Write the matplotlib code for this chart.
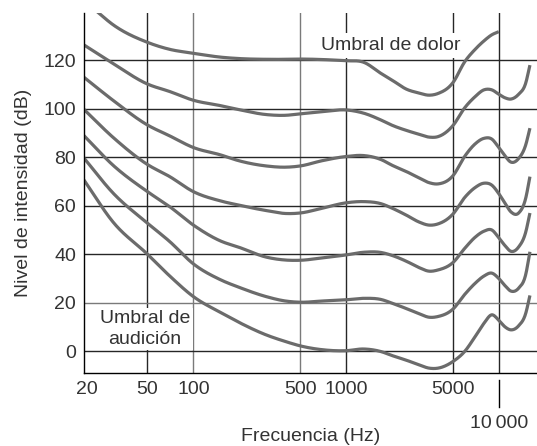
"""Equal-loudness contours (curvas isofónicas), log frequency axis."""

import matplotlib

matplotlib.use("Agg")
import matplotlib.pyplot as plt
import numpy as np

# frequencies (Hz) shared by the 0..100 phon contours
FREQ_HZ = [19, 30, 50, 70, 100, 150, 200, 300, 400, 500, 700, 1000, 1300,
           1700, 2000, 2500, 3000, 3500, 4000, 5000, 6000, 7000, 8000, 9000,
           10000, 11000, 12000, 13500, 15000, 16000]

PHON_0 = [71, 53, 40, 31, 22.5, 16, 11.8, 6.7, 4, 2.2, 0.6, 0.2, 0.9, -0.2,
          -1.8, -3.8, -5.6, -7, -7, -4.3, 0, 6, 11.5, 15, 12.8, 10, 8.8,
          10.5, 15.5, 23]
PHON_20 = [80, 65, 52.8, 45.2, 36, 29.5, 26.3, 22.5, 20.7, 20.2, 20.7, 21.2,
           21.8, 21.3, 19.8, 17.5, 15.5, 14, 14.3, 17.3, 23.5, 28, 31, 32.2,
           30, 27, 24.8, 26, 31.5, 41]
PHON_40 = [89.2, 76.5, 65.8, 59.6, 52, 45.5, 42.8, 38.8, 37.6, 37.5, 38.5,
           39.7, 40.8, 40.7, 39.5, 37, 34.5, 33, 33.5, 36.5, 42.5, 47, 49.5,
           50, 46.8, 43.5, 41.2, 43, 49, 57]
PHON_60 = [100, 88, 77, 72, 65.8, 62, 60.2, 58, 56.8, 57, 59, 61.2, 61.7,
           60.8, 59, 56, 53.3, 52, 52.5, 56.5, 63.5, 67.5, 69.3, 68.5, 65, 61,
           57.5, 57, 63, 72]
PHON_80 = [113.2, 103.3, 93.3, 88.8, 84, 81, 78.5, 76.4, 75.9, 76.4, 78.6,
           80.3, 80.7, 79, 76.7, 74, 71.5, 69.5, 69, 72.3, 80.5, 85.5, 87.8,
           87.5, 84, 80.5, 78, 79.5, 85, 92]
PHON_100 = [126.5, 118.5, 110.2, 107.1, 103.5, 101.3, 99.6, 97.6, 97.3, 97.9,
            98.8, 99.5, 98.2, 95.3, 93.2, 91, 89.5, 88.3, 88.5, 93, 100.5,
            105, 107.8, 107.8, 106, 104.5, 104, 106, 110.5, 118]

# threshold of pain runs on its own frequency range
FREQ_PAIN_HZ = [22, 30, 50, 70, 100, 150, 200, 300, 400, 500, 700, 1000, 1300,
                1700, 2000, 2500, 3000, 3500, 4000, 5000, 6000, 7000, 8000,
                9000, 10000]
PHON_120 = [141.5, 134.5, 127.4, 124.5, 122.9, 121.3, 120.7, 120.4, 120.4,
            120.5, 120.3, 119.8, 119.2, 114.5, 111.8, 108, 106.5, 105.6, 106.3,
            110.7, 119.5, 124.5, 128, 130.5, 131.8]

X_TICKS = [20, 50, 100, 500, 1000, 5000]
X_TICK_LABELS = ["20", "50", "100", "500", "1000", "5000"]
X_LOW_TICK = 10000
X_LOW_TICK_LABEL = "10\u2009000"
Y_TICKS = [0, 20, 40, 60, 80, 100, 120]
V_GRID = [50, 100, 500, 1000, 5000, 10000]
LIGHT_V_GRID = [100, 500]
LIGHT_H_GRID = [20]

CURVE_COLOR = "#6b6b6b"
GRID_DARK = "#262626"
GRID_LIGHT = "#7a7a7a"
TEXT_COLOR = "#333333"


def smooth(x, y, xs):
    """Cubic Hermite through the read points, three-point slopes (drawing only)."""
    x = np.asarray(x, float)
    y = np.asarray(y, float)
    h = np.diff(x)
    d = np.diff(y) / h
    m = np.empty_like(y)
    m[0], m[-1] = d[0], d[-1]
    m[1:-1] = (d[1:] * h[:-1] + d[:-1] * h[1:]) / (h[:-1] + h[1:])
    i = np.clip(np.searchsorted(x, xs) - 1, 0, len(h) - 1)
    t = (xs - x[i]) / h[i]
    return ((2 * t**3 - 3 * t**2 + 1) * y[i] + (t**3 - 2 * t**2 + t) * h[i] * m[i]
            + (-2 * t**3 + 3 * t**2) * y[i + 1] + (t**3 - t**2) * h[i] * m[i + 1])


def draw_curve(ax, freqs, levels):
    lx = np.log10(freqs)
    fine = np.linspace(lx[0], lx[-1], 800)
    ax.plot(10**fine, smooth(lx, levels, fine), color=CURVE_COLOR, lw=2.3,
            solid_capstyle="butt", zorder=3)


def main() -> None:
    plt.rcParams["font.family"] = ["Liberation Sans", "DejaVu Sans"]
    plt.rcParams["font.size"] = 14

    fig = plt.figure(figsize=(5.37, 4.46), dpi=100)
    ax = fig.add_axes([84 / 537, 73 / 446, 453 / 537, 360 / 446])
    ax.set_xscale("log")
    ax.set_xlim(19.2, 17800)
    ax.set_ylim(-9, 139.5)

    for f in V_GRID:
        c = GRID_LIGHT if f in LIGHT_V_GRID else GRID_DARK
        ax.axvline(f, color=c, lw=1.0, zorder=1)
    for yv in Y_TICKS:
        c = GRID_LIGHT if yv in LIGHT_H_GRID else GRID_DARK
        ax.axhline(yv, color=c, lw=1.0, zorder=1)

    for levels in (PHON_0, PHON_20, PHON_40, PHON_60, PHON_80, PHON_100):
        draw_curve(ax, FREQ_HZ, levels)
    draw_curve(ax, FREQ_PAIN_HZ, PHON_120)

    for side in ("top", "right"):
        ax.spines[side].set_visible(False)
    for side in ("left", "bottom"):
        ax.spines[side].set_color("black")
        ax.spines[side].set_linewidth(1.0)
        ax.spines[side].set_zorder(4)

    ax.set_xticks(X_TICKS)
    ax.set_xticklabels(X_TICK_LABELS)
    ax.xaxis.set_minor_locator(matplotlib.ticker.NullLocator())
    ax.set_yticks(Y_TICKS)
    ax.tick_params(axis="x", length=0, pad=5.5, labelcolor=TEXT_COLOR)
    ax.tick_params(axis="y", length=0, pad=5.8, labelcolor=TEXT_COLOR)

    # 10 000 sits lower, hanging from a short tick
    trans = ax.get_xaxis_transform()
    ax.plot([X_LOW_TICK, X_LOW_TICK], [-0.0194, -0.0944], transform=trans,
            color="black", lw=1.0, clip_on=False)
    ax.text(X_LOW_TICK, -0.1528, X_LOW_TICK_LABEL, transform=trans,
            ha="center", va="baseline", color=TEXT_COLOR)

    ax.set_xlabel("Frecuencia (Hz)", color=TEXT_COLOR, va="baseline")
    ax.xaxis.set_label_coords(0.5, -0.189)
    ax.set_ylabel("Nivel de intensidad (dB)", color=TEXT_COLOR, va="baseline")
    ax.yaxis.set_label_coords(-0.1236, 0.5)

    ax.text(1970, 124.2, "Umbral de dolor", ha="center", va="baseline",
            color=TEXT_COLOR, zorder=2,
            bbox=dict(facecolor="white", edgecolor="none",
                      boxstyle="square,pad=0.2"))
    ax.text(48.3, 9.2, "Umbral de\naudición", ha="center", va="center",
            linespacing=1.25, color=TEXT_COLOR, zorder=2,
            bbox=dict(facecolor="white", edgecolor="none",
                      boxstyle="square,pad=0.12"))

    fig.savefig("out.png", dpi=100)


if __name__ == "__main__":
    main()
